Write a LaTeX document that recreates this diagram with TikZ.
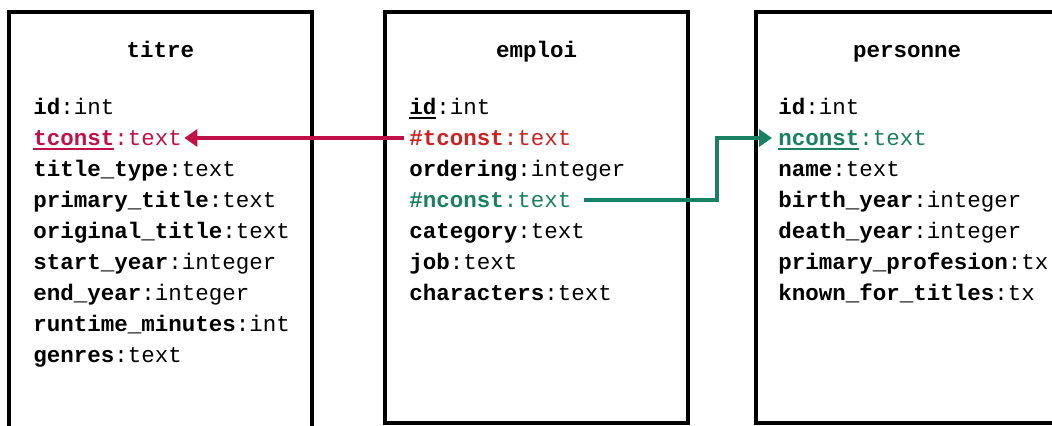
\documentclass[tikz,border=0pt]{standalone}
\usepackage{fontspec}
\setmonofont{Liberation Mono}
\usepackage{xcolor}
\definecolor{keyred}{RGB}{192,16,72}
\definecolor{fkred}{RGB}{204,34,34}
\definecolor{keygreen}{RGB}{26,128,98}
\usepackage{tikz}
\usetikzlibrary{
  arrows.meta
}
\newcommand{\fieldfont}{\ttfamily\fontsize{11.25pt}{13pt}\selectfont}
\newcommand{\keyul}[1]{\setbox0\hbox{#1}\rlap{\rule[-2pt]{\wd0}{0.9pt}}\box0}
\tikzset{
  tablebox/.style={draw, line width=2pt, outer sep=0pt,
    minimum width=151.5pt, inner sep=0pt},
  tabtitle/.style={anchor=base, inner sep=0pt, font=\fieldfont\bfseries},
  field/.style={anchor=base west, inner sep=0pt, font=\fieldfont},
  fkarr/.style={-{Triangle[length=6.5pt, width=8.5pt]}, line width=2pt},
}

\begin{document}
\begin{tikzpicture}[x=0.5pt, y=-0.5pt]
  \useasboundingbox (0,0) rectangle (1052,426);

  % the three tables
  \node[tablebox, minimum height=214pt]   (titrebox)    at (160.5,226)   {};
  \node[tablebox, minimum height=205.5pt] (emploibox)   at (536.5,217.5) {};
  \node[tablebox, minimum height=205.5pt] (personnebox) at (907,217.5)   {};

  \node[tabtitle] (titre)    at ([yshift=-23pt]titrebox.north)    {titre};
  \node[tabtitle] (emploi)   at ([yshift=-23pt]emploibox.north)   {emploi};
  \node[tabtitle] (personne) at ([yshift=-23pt]personnebox.north) {personne};

  % columns
  \foreach \f [count=\i] in {
      \textbf{id}:int,
      \color{keyred}\keyul{\textbf{tconst}}:text,
      \textbf{title\_type}:text,
      \textbf{primary\_title}:text,
      \textbf{original\_title}:text,
      \textbf{start\_year}:integer,
      \textbf{end\_year}:integer,
      \textbf{runtime\_minutes}:int,
      \textbf{genres}:text}
    \node[field] (titre-\i) at (33,84+31*\i) {\f};

  \foreach \f [count=\i] in {
      \keyul{\textbf{id}}:int,
      \color{fkred}\textbf{\#tconst}:text,
      \textbf{ordering}:integer,
      \color{keygreen}\textbf{\#nconst}:text,
      \textbf{category}:text,
      \textbf{job}:text,
      \textbf{characters}:text}
    \node[field] (emploi-\i) at (409,84+31*\i) {\f};

  \foreach \f [count=\i] in {
      \textbf{id}:int,
      \color{keygreen}\keyul{\textbf{nconst}}:text,
      \textbf{name}:text,
      \textbf{birth\_year}:integer,
      \textbf{death\_year}:integer,
      \textbf{primary\_profesion}:tx,
      \textbf{known\_for\_titles}:tx}
    \node[field] (personne-\i) at (778,84+31*\i) {\f};

  % foreign keys
  \draw[fkarr, keyred]
    ([xshift=-2.5pt,yshift=4pt]emploi-2.base west) --
    ([xshift=1pt,yshift=4pt]titre-2.base east);
  \coordinate (bend) at (717,138);
  \draw[fkarr, keygreen]
    ([xshift=6pt,yshift=4pt]emploi-4.base east) -| (bend) --
    ([xshift=-3pt,yshift=4pt]personne-2.base west);
\end{tikzpicture}
\end{document}
